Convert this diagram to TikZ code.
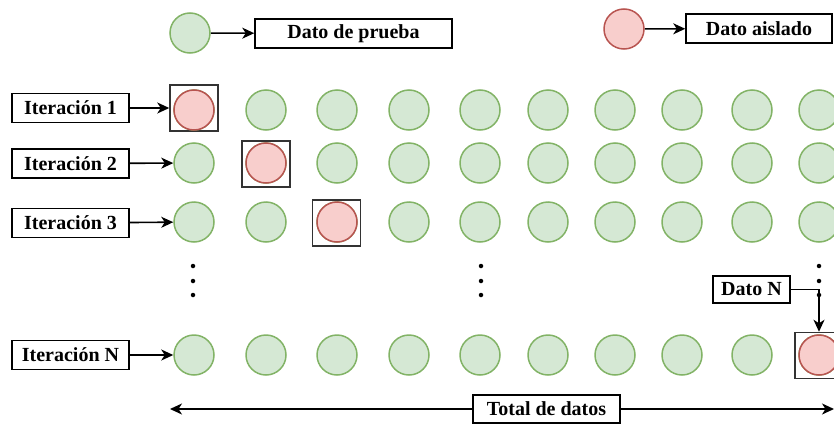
\documentclass[tikz,border=0pt]{standalone}
\usepackage{fontspec}
\setmainfont{Liberation Serif}
\usetikzlibrary{arrows.meta}
\definecolor{gfill}{HTML}{D5E8D4}
\definecolor{gline}{HTML}{82B366}
\definecolor{rfill}{HTML}{F8CECC}
\definecolor{rline}{HTML}{B85450}
\definecolor{boxline}{HTML}{333333}
\tikzset{
  gdot/.style={circle, draw=gline, fill=gfill, line width=1.5pt, minimum size=40pt, inner sep=0pt},
  rdot/.style={circle, draw=rline, fill=rfill, line width=1.5pt, minimum size=40pt, inner sep=0pt},
  hl/.style={draw=boxline, line width=1.5pt, minimum width=48pt, minimum height=46pt, inner sep=0pt},
  lbl/.style={draw=black, fill=white, line width=1.5pt, minimum height=29pt, inner sep=0pt,
    font=\fontsize{20}{23}\selectfont\bfseries},
  conn/.style={line width=1.6pt, -{Stealth[length=12pt,width=11pt,inset=3.5pt]}},
  vdot/.style={circle, fill=black, minimum size=4.5pt, inner sep=0pt}
}
\begin{document}
\begin{tikzpicture}[x=1pt,y=-1pt]
\useasboundingbox (0,0) rectangle (834,423);
% legend
\node[gdot] (lg) at (190,33) {};
\node[lbl, minimum width=197pt] (lgt) at (353.5,33.5) {Dato de prueba};
\draw[conn] (lg) -- (lgt);
\node[rdot] (lr) at (624,29) {};
\node[lbl, minimum width=146pt] (lrt) at (759,28.5) {Dato aislado};
\draw[conn] (lr) -- (lrt);
% highlight boxes
\node[hl] (h1) at (194,108) {};
\node[hl] (h2) at (266,164) {};
\node[hl] (h3) at (336.5,223) {};
\node[hl] (hN) at (819,355.5) {};
% rows
\foreach \r/\y in {1/110,2/163,3/222,N/355}{
  \foreach \c/\x in {1/194,2/266,3/337,4/409,5/480,6/548,7/615,8/682,9/752,10/819}{
    \node[gdot] (c\r-\c) at (\x,\y) {};
  }
}
\node[rdot] at (c1-1) {};
\node[rdot] at (c2-2) {};
\node[rdot] at (c3-3) {};
\node[rdot] at (cN-10) {};
% iteration labels
\node[lbl, minimum width=117pt] (i1) at (70.5,108) {Iteración 1};
\node[lbl, minimum width=117pt] (i2) at (70.5,163.5) {Iteración 2};
\node[lbl, minimum width=117pt] (i3) at (70.5,223) {Iteración 3};
\node[lbl, minimum width=117pt] (iN) at (70.5,355) {Iteración N};
\draw[conn] (i1) -- (h1);
\draw[conn] (i2) -- (c2-1);
\draw[conn] (i3) -- (c3-1);
\draw[conn] (iN) -- (cN-1);
% vertical dots
\foreach \x/\n in {193/a,481/b,819/c}{
  \node[vdot] (\n1) at (\x,266) {};
  \node[vdot] (\n2) at (\x,281) {};
  \node[vdot] (\n3) at (\x,295) {};
}
% Dato N
\node[lbl, minimum width=77pt, minimum height=27pt] (dn) at (751.5,289.5) {Dato N};
\draw[conn] (dn.east) -| (hN.north);
% total
\coordinate (tl) at (170,409);
\coordinate (tr) at (834,409);
\node[lbl, minimum width=147pt, minimum height=28pt] (tot) at (546.5,409) {Total de datos};
\draw[conn] (tot.west) -- (tl);
\draw[conn] (tot.east) -- (tr);
\end{tikzpicture}
\end{document}
